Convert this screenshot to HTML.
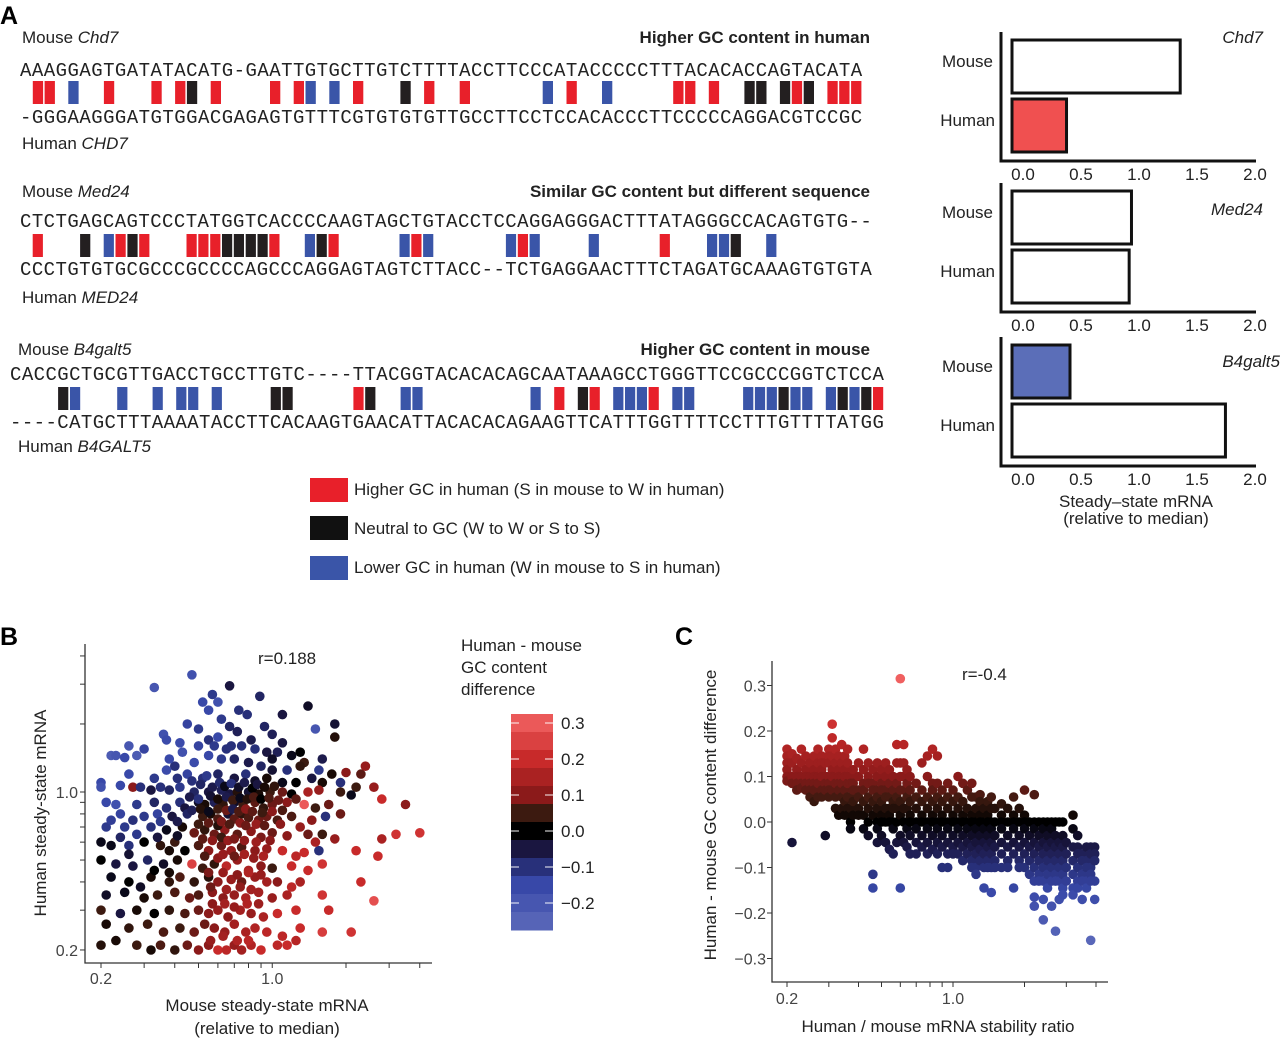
<!DOCTYPE html>
<html><head><meta charset="utf-8"><title>GC content and mRNA</title>
<style>
html,body{margin:0;padding:0;background:#fff;}
svg{display:block;font-family:"Liberation Sans",Arial,sans-serif;}
.seq{font-family:"Liberation Mono","DejaVu Sans Mono",monospace;font-size:19px;fill:#222;}
.lbl{font-size:17px;fill:#222;}
.tick{font-size:16px;fill:#444;}
</style></head>
<body>
<svg id="fig" width="1280" height="1039" viewBox="0 0 1280 1039">
<text x="0" y="24" font-size="25" font-weight="bold">A</text>
<text x="0" y="645" font-size="25" font-weight="bold">B</text>
<text x="675" y="645" font-size="25" font-weight="bold">C</text>

<text class="lbl" x="22" y="43">Mouse <tspan font-style="italic">Chd7</tspan></text>
<text class="lbl" x="870" y="43" text-anchor="end" font-weight="bold">Higher GC content in human</text>
<text class="lbl" x="22" y="149">Human <tspan font-style="italic">CHD7</tspan></text>
<text class="lbl" x="22" y="197">Mouse <tspan font-style="italic">Med24</tspan></text>
<text class="lbl" x="870" y="197" text-anchor="end" font-weight="bold">Similar GC content but different sequence</text>
<text class="lbl" x="22" y="303">Human <tspan font-style="italic">MED24</tspan></text>
<text class="lbl" x="18" y="355">Mouse <tspan font-style="italic">B4galt5</tspan></text>
<text class="lbl" x="870" y="355" text-anchor="end" font-weight="bold">Higher GC content in mouse</text>
<text class="lbl" x="18" y="452">Human <tspan font-style="italic">B4GALT5</tspan></text>
<g id="seqs"></g>

<rect x="310" y="478" width="38" height="24" fill="#e8202a"/>
<text class="lbl" x="354" y="495">Higher GC in human (S in mouse to W in human)</text>
<rect x="310" y="516" width="38" height="24" fill="#111"/>
<text class="lbl" x="354" y="534">Neutral to GC (W to W or S to S)</text>
<rect x="310" y="556" width="38" height="24" fill="#3a55a8"/>
<text class="lbl" x="354" y="573">Lower GC in human (W in mouse to S in human)</text>

<g id="bars"></g>
<text class="lbl" x="1136" y="507" text-anchor="middle">Steady–state mRNA</text>
<text class="lbl" x="1136" y="524" text-anchor="middle">(relative to median)</text>

<g id="plotB"></g>
<text class="lbl" x="258" y="664">r=0.188</text>
<text class="lbl" x="0" y="0" transform="translate(46,813) rotate(-90)" text-anchor="middle">Human steady-state mRNA</text>
<text class="lbl" x="267" y="1011" text-anchor="middle">Mouse steady-state mRNA</text>
<text class="lbl" x="267" y="1034" text-anchor="middle">(relative to median)</text>
<text class="lbl" x="461" y="651">Human - mouse</text>
<text class="lbl" x="461" y="673">GC content</text>
<text class="lbl" x="461" y="695">difference</text>
<g id="cbar"></g>

<g id="plotC"></g>
<text class="lbl" x="962" y="680">r=-0.4</text>
<text class="lbl" x="0" y="0" transform="translate(716,815) rotate(-90)" text-anchor="middle">Human - mouse GC content difference</text>
<text class="lbl" x="938" y="1032" text-anchor="middle">Human / mouse mRNA stability ratio</text>
</svg>
<script>
const NS="http://www.w3.org/2000/svg";
function mk(tag,attrs,parent){const e=document.createElementNS(NS,tag);for(const k in attrs)e.setAttribute(k,attrs[k]);parent.appendChild(e);return e;}

/* ---------- sequences ---------- */
const seqTop=["AAAGGAGTGATATACATG-GAATTGTGCTTGTCTTTTACCTTCCCATACCCCCTTTACACACCAGTACATA","CTCTGAGCAGTCCCTATGGTCACCCCAAGTAGCTGTACCTCCAGGAGGGACTTTATAGGGCCACAGTGTG--","CACCGCTGCGTTGACCTGCCTTGTC----TTACGGTACACACAGCAATAAAGCCTGGGTTCCGCCCGGTCTCCA"];
const seqBottom=["-GGGAAGGGATGTGGACGAGAGTGTTTCGTGTGTGTTGCCTTCCTCCACACCCTTCCCCCAGGACGTCCGC","CCCTGTGTGCGCCCGCCCCAGCCCAGGAGTAGTCTTACC--TCTGAGGAACTTTCTAGATGCAAAGTGTGTA","----CATGCTTTAAAATACCTTCACAAGTGAACATTACACACAGAAGTTCATTTGGTTTTCCTTTGTTTTATGG"];
const redIdx=[[1,2,7,11,13,16,21,23,28,34,37,46,55,56,58,65,68,69,70],[1,8,10,14,15,16,21,26,33,42,54],[29,46,49,54,73]];
const blueIdx=[[4,24,26,44,49],[7,24,32,34,41,43,48,58,59,63],[5,9,12,14,15,17,33,34,44,51,52,53,56,57,62,63,64,66,67,69,71]];
const blackIdx=[[14,32,61,62,64,66],[5,9,17,18,19,20,25,60],[4,22,23,30,48,65,70,72]];
const rowGeom=[{x:20,step:11.86,top:76,mark:81,bot:123},{x:20,step:11.83,top:227,mark:234,bot:275},{x:10,step:11.81,top:380,mark:387,bot:428}];
const seqG=document.getElementById('seqs');
rowGeom.forEach((g,r)=>{
  const t=mk('text',{class:'seq',x:g.x,y:g.top,textLength:(seqTop[r].length*g.step).toFixed(1),lengthAdjust:'spacing'},seqG);
  t.textContent=seqTop[r];
  
  
  const b=mk('text',{class:'seq',x:g.x,y:g.bot,textLength:(seqTop[r].length*g.step).toFixed(1),lengthAdjust:'spacing'},seqG);
  b.textContent=seqBottom[r];
  
  
  [[redIdx,'#e8202a','red'],[blueIdx,'#3a55a8','blue'],[blackIdx,'#231f20','black']].forEach(([arr,col,nm])=>{
    arr[r].forEach(i=>{
      const m=mk('rect',{x:(g.x+g.step*i+0.9).toFixed(1),y:g.mark,width:(g.step-1.6).toFixed(1),height:23,fill:col},seqG);
      
      
    });
  });
});

/* ---------- bar panels ---------- */
const genes=["Chd7","Med24","B4galt5"];
const mouseVals=[1.45,1.03,0.5];
const humanVals=[0.47,1.01,1.84];
const mouseFill=["#fff","#fff","#5b6eb8"];
const humanFill=["#f05050","#fff","#fff"];
const barTicks=[0,0.5,1.0,1.5,2.0];
const panelTop=[32,183,337];
const barsG=document.getElementById('bars');
const bx0=1012,bscale=116;
function bxs(v){return bx0+v*bscale;}
genes.forEach((gn,p)=>{
  const t=panelTop[p], bottom=t+129;
  const ax=mk('path',{d:`M1001,${t} V${bottom} H1256`,fill:'none',stroke:'#111','stroke-width':3},barsG);
  
  
  const mb=mk('rect',{x:bxs(0),y:t+8,width:bxs(mouseVals[p])-bxs(0),height:53,fill:mouseFill[p],stroke:'#111','stroke-width':3},barsG);
  
  
  const hb=mk('rect',{x:bxs(0),y:t+67,width:bxs(humanVals[p])-bxs(0),height:53,fill:humanFill[p],stroke:'#111','stroke-width':3},barsG);
  
  
  const l1=mk('text',{class:'lbl',x:993,y:t+35,'text-anchor':'end',fill:'#444'},barsG);l1.textContent='Mouse';
  
  
  const l2=mk('text',{class:'lbl',x:995,y:t+94,'text-anchor':'end',fill:'#444'},barsG);l2.textContent='Human';
  
  
  const gl=mk('text',{class:'lbl',x:p===2?1280:1263,y:p===0?43:(p===1?215:367),'text-anchor':'end','font-style':'italic',fill:'#333'},barsG);gl.textContent=gn;
  
  
  barTicks.forEach(v=>{
    const tl=mk('text',{class:'lbl',x:bxs(v)+11,y:bottom+19,'text-anchor':'middle',fill:'#222'},barsG);tl.textContent=v.toFixed(1);
    
    
  });
});

/* ---------- color scale ---------- */
const colorStops=[[-0.27,[92,106,186]],[-0.15,[56,72,168]],[-0.1,[40,48,122]],[-0.05,[26,22,64]],[0,[0,0,0]],[0.05,[60,26,16]],[0.1,[139,26,26]],[0.2,[200,42,42]],[0.32,[242,98,98]]];
function gcColor(v){
  if(v<=colorStops[0][0])return `rgb(${colorStops[0][1]})`;
  for(let i=1;i<colorStops.length;i++){
    if(v<=colorStops[i][0]){const [a,ca]=colorStops[i-1],[b,cb]=colorStops[i];const f=(v-a)/(b-a);
      return 'rgb('+ca.map((c,j)=>Math.round(c+(cb[j]-c)*f)).join(',')+')';}
  }
  return `rgb(${colorStops[colorStops.length-1][1]})`;
}

/* ---------- scatter B data ---------- */
const mouseMRNA=[0.47,0.33,0.67,0.57,0.89,0.52,0.6,1.4,1.1,0.79,0.62,0.45,1.5,1.8,0.67,0.5,0.72,1.0,1.8,0.36,0.37,0.42,0.55,0.26,0.3,0.28,0.22,0.23,0.25,0.58,0.65,0.75,0.85,0.95,1.05,1.2,1.35,1.3,0.55,0.62,0.7,0.8,0.48,0.4,0.9,1.0,1.15,1.55,1.75,2.0,2.3,0.26,0.33,0.45,0.52,0.6,0.7,0.78,0.85,0.95,1.1,1.25,1.45,1.6,1.9,2.6,2.2,
0.2,0.2,0.24,0.27,0.29,0.32,0.35,0.38,0.42,0.48,0.55,0.62,0.67,0.72,0.8,0.88,0.98,1.1,1.2,1.4,1.55,1.9,2.1,
0.21,0.23,0.28,0.33,0.37,0.42,0.44,0.5,0.53,0.58,0.63,0.7,0.76,0.85,0.92,1.0,1.15,1.35,1.5,1.7,2.8,3.5,
0.24,0.3,0.34,0.39,0.45,0.52,0.56,0.6,0.66,0.7,0.75,0.8,0.88,0.95,1.05,1.2,1.45,1.65,1.9,
0.21,0.25,0.28,0.32,0.37,0.43,0.48,0.53,0.58,0.64,0.72,0.82,0.9,1.0,1.15,1.4,1.6,3.2,4.0,2.8,
0.2,0.22,0.26,0.3,0.35,0.4,0.44,0.5,0.55,0.62,0.68,0.75,0.85,0.95,1.1,1.25,1.35,1.55,2.2,2.7,
0.2,0.23,0.27,0.31,0.36,0.41,0.47,0.52,0.58,0.65,0.72,0.8,0.9,1.0,1.2,1.6,
0.22,0.26,0.32,0.38,0.42,0.48,0.55,0.6,0.68,0.75,0.85,0.95,1.05,1.3,
0.21,0.25,0.3,0.34,0.4,0.46,0.5,0.57,0.63,0.7,0.78,0.88,1.0,1.15,1.6,2.6,
0.2,0.24,0.28,0.33,0.38,0.44,0.5,0.55,0.6,0.66,0.74,0.82,0.92,1.05,1.25,
0.21,0.26,0.31,0.36,0.42,0.48,0.53,0.58,0.64,0.7,0.78,0.85,0.95,1.1,1.6,2.1,
0.2,0.23,0.28,0.32,0.35,0.4,0.45,0.5,0.55,0.6,0.65,0.7,0.75,0.82,0.9,1.05,1.15,
0.47,0.51,0.54,0.57,0.61,0.64,0.68,0.73,0.77,0.83,0.87,0.93,1.02,
0.46,0.5,0.56,0.6,0.65,0.69,0.74,0.79,0.84,0.9,0.97,1.06,1.25,
0.47,0.51,0.55,0.6,0.65,0.69,0.73,0.78,0.83,0.91,1.0,1.1,
0.5,0.55,0.6,0.62,0.67,0.74,0.78,0.86,0.93,1.08,
0.52,0.57,0.62,0.66,0.7,0.77,0.86,0.98,
0.53,0.6,0.63,0.7,0.77,0.84,0.92,
0.55,0.63,0.72,0.8,0.9,
0.56,0.65,0.74,0.82,
0.57,0.64,0.7,0.79,0.88,
0.56,0.63,0.72,0.8,
0.22,0.27,0.35,0.41,0.24,0.34,0.41,0.38,0.26,0.33,0.38,0.29,
0.38,0.43,0.5,0.6,0.68,0.82,0.93,1.1,0.73,0.55,0.41,0.37,1.0,1.3,1.6,2.4,
1.3,1.5,1.8,1.2,1.4,2.3,1.7,1.3,1.25];
const humanMRNA=[3.3,2.9,2.95,2.7,2.65,2.5,2.5,2.4,2.2,2.2,2.1,2.0,1.9,2.0,1.95,1.9,1.85,1.8,1.75,1.8,1.7,1.65,1.7,1.6,1.55,1.45,1.45,1.45,1.42,1.6,1.55,1.6,1.55,1.5,1.5,1.45,1.35,1.5,1.45,1.4,1.4,1.35,1.35,1.3,1.3,1.25,1.25,1.25,1.2,1.22,1.2,1.2,1.15,1.2,1.15,1.2,1.15,1.2,1.12,1.15,1.1,1.1,1.15,1.1,1.1,1.05,1.05,
1.1,1.05,1.07,1.05,1.05,1.02,1.05,1.02,1.05,1.0,1.0,1.02,0.98,1.0,1.0,0.98,1.0,1.0,0.98,1.0,1.02,1.0,0.97,
0.9,0.88,0.88,0.9,0.85,0.9,0.85,0.9,0.88,0.9,0.88,0.9,0.88,0.9,0.85,0.88,0.9,0.88,0.85,0.88,0.93,0.88,
0.8,0.78,0.8,0.78,0.8,0.78,0.8,0.76,0.8,0.76,0.8,0.77,0.75,0.78,0.75,0.78,0.75,0.78,0.8,
0.7,0.7,0.65,0.7,0.68,0.7,0.66,0.68,0.65,0.68,0.65,0.67,0.63,0.66,0.64,0.65,0.65,0.65,0.66,0.62,
0.6,0.58,0.58,0.6,0.58,0.6,0.55,0.58,0.55,0.58,0.55,0.57,0.55,0.56,0.55,0.52,0.54,0.55,0.55,0.52,
0.5,0.48,0.47,0.5,0.48,0.5,0.48,0.46,0.48,0.47,0.5,0.45,0.47,0.46,0.47,0.48,
0.42,0.4,0.42,0.4,0.42,0.4,0.42,0.4,0.41,0.4,0.42,0.4,0.4,0.4,
0.35,0.36,0.34,0.35,0.36,0.34,0.35,0.36,0.34,0.35,0.34,0.36,0.34,0.35,0.35,0.33,
0.3,0.29,0.3,0.29,0.3,0.29,0.3,0.29,0.3,0.28,0.3,0.29,0.28,0.29,0.3,
0.26,0.25,0.26,0.24,0.25,0.24,0.26,0.25,0.24,0.26,0.24,0.25,0.24,0.23,0.24,0.24,
0.21,0.22,0.21,0.2,0.21,0.2,0.21,0.2,0.21,0.2,0.2,0.21,0.2,0.21,0.2,0.21,0.21,
1.12,1.08,1.18,1.05,1.1,1.06,1.09,1.05,1.1,1.04,1.08,1.05,1.06,
0.95,0.93,0.96,0.93,0.95,0.92,0.94,0.93,0.95,0.93,0.94,0.92,0.93,
0.83,0.84,0.82,0.84,0.83,0.84,0.82,0.84,0.82,0.81,0.82,0.83,
0.72,0.73,0.71,0.74,0.72,0.73,0.71,0.72,0.71,0.72,
0.62,0.61,0.63,0.61,0.62,0.61,0.6,0.61,
0.52,0.51,0.53,0.52,0.53,0.51,0.52,
0.44,0.44,0.43,0.44,0.43,
0.38,0.37,0.38,0.37,
0.32,0.32,0.31,0.32,0.32,
0.22,0.23,0.22,0.22,
0.75,0.75,0.74,0.74,0.63,0.63,0.64,0.55,0.53,0.45,0.44,0.38,
1.4,1.5,1.6,1.75,1.6,1.7,1.95,1.65,2.3,2.3,1.15,1.25,1.4,1.3,1.4,1.3,
0.7,0.6,0.62,0.38,0.45,0.4,0.3,0.25,0.22];
const gcDiffB=[-0.18,-0.2,-0.05,-0.12,-0.08,-0.15,-0.18,-0.03,-0.05,-0.1,-0.12,-0.14,-0.2,-0.04,-0.08,-0.12,-0.07,-0.07,0.03,-0.18,-0.16,-0.16,-0.1,-0.2,-0.14,-0.22,-0.22,-0.2,-0.15,-0.12,-0.1,-0.1,-0.1,-0.05,-0.07,-0.02,0.05,0.0,-0.15,-0.12,-0.08,-0.06,-0.16,-0.1,-0.08,-0.04,-0.1,-0.12,0.02,0.1,0.07,-0.15,-0.12,-0.14,-0.1,-0.08,-0.05,-0.1,-0.03,0.02,-0.02,0.0,-0.05,0.02,-0.1,0.12,0.05,
-0.15,-0.18,-0.15,0.1,-0.1,-0.05,-0.1,-0.08,-0.12,-0.08,-0.05,-0.07,-0.05,0.03,-0.04,0.02,0.05,0.08,0.0,0.15,0.12,0.05,-0.02,
-0.15,-0.18,-0.12,-0.08,-0.1,-0.1,-0.05,-0.03,0.02,-0.07,0.04,-0.03,0.05,0.07,0.04,0.08,0.1,0.3,0.05,0.08,0.2,0.1,
-0.14,-0.12,-0.14,-0.05,-0.08,0.05,0.02,0.06,-0.04,0.07,0.04,0.06,0.08,0.08,0.06,0.06,0.1,-0.1,0.08,
-0.12,-0.12,-0.12,-0.1,-0.02,0.02,0.08,0.04,0.08,0.1,0.07,0.1,0.09,0.08,0.1,0.08,0.05,0.22,0.22,0.15,
-0.02,-0.02,-0.1,0.0,0.04,0.05,0.0,0.06,0.1,0.08,0.12,0.06,0.1,0.12,0.2,0.18,0.2,-0.1,0.2,0.2,
0.0,-0.05,-0.05,-0.08,-0.03,0.02,0.25,0.05,0.04,0.18,0.12,0.15,0.1,0.05,0.2,0.22,
-0.02,0.0,0.02,0.04,0.06,0.04,0.03,0.1,0.12,0.08,0.12,0.14,0.1,0.15,
-0.03,-0.02,0.02,0.05,0.06,0.08,0.06,0.1,0.1,0.12,0.15,0.14,0.12,0.15,0.22,0.28,
0.05,-0.05,0.02,0.0,0.04,0.06,0.08,0.1,0.12,0.1,0.14,0.12,0.15,0.2,0.2,
0.02,0.04,0.05,0.06,0.05,0.08,0.08,0.1,0.12,0.14,0.15,0.16,0.18,0.18,0.24,0.22,
0.03,0.02,0.05,0.02,0.06,0.04,0.08,0.1,0.1,0.2,0.18,0.12,0.14,0.16,0.2,0.18,0.2,
-0.1,-0.08,-0.12,-0.06,-0.09,-0.02,-0.1,-0.03,-0.06,0.0,-0.05,0.02,0.04,
-0.06,-0.1,-0.04,0.02,-0.06,0.05,-0.02,0.03,0.06,0.0,0.06,0.08,0.07,
-0.07,0.03,-0.02,0.05,0.08,-0.06,0.06,0.1,0.07,0.05,0.1,0.06,
0.05,0.07,0.03,0.09,0.06,0.1,0.08,0.12,0.07,0.1,
0.07,0.1,0.05,0.12,0.09,0.11,0.13,0.1,
0.06,0.1,0.12,0.08,0.14,0.11,0.15,
0.09,0.12,0.1,0.16,0.12,
0.08,0.13,0.11,0.14,
0.1,0.14,0.12,0.16,0.13,
0.12,0.14,0.16,0.18,
-0.13,-0.1,-0.12,-0.06,-0.08,-0.05,-0.03,0.02,-0.04,0.0,0.02,-0.03,
-0.15,-0.18,-0.14,-0.15,-0.1,-0.06,-0.08,-0.05,-0.1,-0.15,-0.1,-0.16,-0.03,0.04,-0.06,0.12,
0.12,0.15,0.12,0.18,0.2,0.2,0.2,0.2,0.17];
const bXTicks=[0.2,0.3,0.4,0.5,0.6,0.7,0.8,0.9,1,2,3,4];
const bXLabels=[[0.2,"0.2"],[1,"1.0"]];
const bYTicks=[0.2,0.3,0.4,0.5,0.6,0.7,0.8,0.9,1,2,3,4];
const bYLabels=[[0.2,"0.2"],[1,"1.0"]];

function bX(v){return 101+(Math.log10(v)-Math.log10(0.2))*245;}
function bY(v){return 792-Math.log10(v)*226;}
const gB=document.getElementById('plotB');
const bAx=mk('path',{d:'M85,644 V963 H432',fill:'none',stroke:'#333','stroke-width':1.3},gB);


bXTicks.forEach(v=>{const t=mk('line',{x1:bX(v),x2:bX(v),y1:963,y2:968,stroke:'#333'},gB);
  
  });
bYTicks.forEach(v=>{const t=mk('line',{x1:80,x2:85,y1:bY(v),y2:bY(v),stroke:'#333'},gB);
  
  });
bXLabels.forEach(([v,s])=>{const t=mk('text',{class:'tick',x:bX(v),y:984,'text-anchor':'middle'},gB);t.textContent=s;
  
  });
bYLabels.forEach(([v,s])=>{const t=mk('text',{class:'tick',x:78,y:bY(v)+6,'text-anchor':'end'},gB);t.textContent=s;
  
  });
mouseMRNA.forEach((x,i)=>{
  const c=mk('circle',{cx:bX(x).toFixed(1),cy:bY(humanMRNA[i]).toFixed(1),r:4.8,fill:gcColor(gcDiffB[i])},gB);
  
  
});

/* ---------- colorbar ---------- */
const cbarLevels=[0.3,0.25,0.2,0.15,0.1,0.05,0,-0.05,-0.1,-0.15,-0.2,-0.25];
const cbarTicks=[0.3,0.2,0.1,0.0,-0.1,-0.2];
const cb=document.getElementById('cbar');
function cbY(v){return 831-v*360;}
cbarLevels.forEach(v=>{
  const r=mk('rect',{x:511,y:cbY(v+0.025).toFixed(1),width:42,height:18.5,fill:gcColor(v)},cb);
  
  
});
cbarTicks.forEach(v=>{
  const a=mk('line',{x1:511,x2:519,y1:cbY(v),y2:cbY(v),stroke:'#fff','stroke-width':1.2,opacity:0.8},cb);
  
  
  const b=mk('line',{x1:545,x2:553,y1:cbY(v),y2:cbY(v),stroke:'#fff','stroke-width':1.2,opacity:0.8},cb);
  
  
  const t=mk('text',{class:'lbl',x:561,y:cbY(v)+6},cb);t.textContent=(v<0?'\u2212'+Math.abs(v).toFixed(1):v.toFixed(1));
  
  
});

/* ---------- scatter C data ---------- */
const stabilityRatio=[0.2,0.2,0.2,0.2,0.2,0.2, 0.21,0.21,0.21,0.21,0.21, 0.22,0.22,0.22,0.22,0.22, 0.23,0.23,0.23,0.23,0.23, 0.24,0.24,0.24,0.24,0.24, 0.25,0.25,0.25,0.25,0.25, 0.26,0.26,0.26,0.26,0.26,0.26, 0.27,0.27,0.27,0.27,0.27, 0.28,0.28,0.28,0.28,0.28,0.28, 0.29,0.29,0.29,0.29,0.29, 0.3,0.3,0.3,0.3,0.3,0.3,0.3, 0.31,0.31,0.31,0.31,0.31,0.31, 0.32,0.32,0.32,0.32,0.32,0.32, 0.33,0.33,0.33,0.33,0.33,0.33, 0.34,0.34,0.34,0.34,0.34,0.34, 0.35,0.35,0.35,0.35,0.35,0.35, 0.36,0.36,0.36,0.36,0.36,0.36,0.36, 0.37,0.37,0.37,0.37,0.37,0.37, 0.38,0.38,0.38,0.38,0.38, 0.4,0.4,0.4,0.4,0.4,0.4, 0.42,0.42,0.42,0.42,0.42,0.42,0.42, 0.44,0.44,0.44,0.44,0.44,0.44,0.44, 0.46,0.46,0.46,0.46,0.46,0.46,0.46, 0.48,0.48,0.48,0.48,0.48,0.48,0.48,0.48, 0.5,0.5,0.5,0.5,0.5,0.5,0.5, 0.52,0.52,0.52,0.52,0.52,0.52,0.52, 0.54,0.54,0.54,0.54,0.54,0.54,0.54, 0.56,0.56,0.56,0.56,0.56,0.56,0.56, 0.58,0.58,0.58,0.58,0.58,0.58,0.58, 0.6,0.6,0.6,0.6,0.6,0.6,0.6,0.6, 0.62,0.62,0.62,0.62,0.62,0.62,0.62, 0.64,0.64,0.64,0.64,0.64,0.64,0.64, 0.66,0.66,0.66,0.66,0.66,0.66,0.66, 0.7,0.7,0.7,0.7,0.7,0.7,0.7, 0.74,0.74,0.74,0.74,0.74,0.74,0.74, 0.78,0.78,0.78,0.78,0.78,0.78,0.78,0.78, 0.82,0.82,0.82,0.82,0.82,0.82,0.82,0.82, 0.86,0.86,0.86,0.86,0.86,0.86,0.86,0.86, 0.9,0.9,0.9,0.9,0.9,0.9,0.9, 0.95,0.95,0.95,0.95,0.95,0.95,0.95,0.95, 1.0,1.0,1.0,1.0,1.0,1.0,1.0, 1.05,1.05,1.05,1.05,1.05,1.05,1.05, 1.1,1.1,1.1,1.1,1.1,1.1,1.1, 1.15,1.15,1.15,1.15,1.15,1.15, 1.2,1.2,1.2,1.2,1.2,1.2,1.2,1.2, 1.25,1.25,1.25,1.25,1.25,1.25,1.25,1.25, 1.3,1.3,1.3,1.3,1.3,1.3,1.3, 1.35,1.35,1.35,1.35,1.35,1.35,1.35, 1.4,1.4,1.4,1.4,1.4,1.4,1.4, 1.45,1.45,1.45,1.45,1.45,1.45,1.45,1.45, 1.5,1.5,1.5,1.5,1.5,1.5, 1.6,1.6,1.6,1.6,1.6,1.6,1.6, 1.7,1.7,1.7,1.7,1.7,1.7, 1.8,1.8,1.8,1.8,1.8,1.8,1.8, 1.9,1.9,1.9,1.9,1.9,1.9, 2.0,2.0,2.0,2.0,2.0,2.0,2.0, 2.1,2.1,2.1,2.1,2.1, 2.2,2.2,2.2,2.2,2.2,2.2,2.2,2.2,2.2, 2.3,2.3,2.3,2.3,2.3,2.3, 2.4,2.4,2.4,2.4,2.4,2.4,2.4,2.4, 2.5,2.5,2.5,2.5,2.5,2.5, 2.6,2.6,2.6,2.6,2.6,2.6,2.6, 2.7,2.7,2.7,2.7,2.7,2.7,2.7, 2.8,2.8,2.8,2.8,2.8,2.8, 2.9,2.9,2.9,2.9,2.9,2.9,2.9, 3.0,3.0,3.0,3.0, 3.2,3.2,3.2,3.2,3.2,3.2,3.2, 3.35,3.35,3.35,3.35,3.35,3.35, 3.5,3.5,3.5,3.5,3.5, 3.65,3.65,3.65,3.65,3.65, 3.8,3.8,3.8,3.8,3.8,3.8, 3.95,3.95,3.95,3.95,3.95];
const gcDiffC=[0.16,0.145,0.13,0.115,0.1,0.09, 0.15,0.13,0.1,0.085,-0.045, 0.14,0.115,0.1,0.085,0.07, 0.16,0.13,0.1,0.085,0.075, 0.145,0.115,0.1,0.085,0.07, 0.13,0.1,0.085,0.07,0.055, 0.145,0.115,0.1,0.085,0.07,0.045, 0.16,0.13,0.1,0.085,0.055, 0.145,0.13,0.115,0.1,0.07,0.055, 0.13,0.1,0.085,0.07,-0.03, 0.16,0.145,0.13,0.1,0.085,0.07,0.055, 0.215,0.185,0.145,0.115,0.1,0.07, 0.16,0.13,0.1,0.085,0.055,0.03, 0.145,0.115,0.1,0.085,0.07,0.015, 0.17,0.13,0.1,0.085,0.055,0.03, 0.145,0.115,0.1,0.07,0.045,0.015, 0.16,0.13,0.1,0.085,0.055,0.03,0.015, 0.1,0.085,0.055,0.03,0.0,-0.015, 0.115,0.085,0.07,0.045,0.015, 0.13,0.1,0.07,0.055,0.03,0.015, 0.16,0.115,0.085,0.07,0.045,0.015,-0.015, 0.13,0.1,0.085,0.055,0.03,0.0,-0.03, 0.115,0.085,0.07,0.045,0.015,-0.115,-0.145, 0.13,0.1,0.07,0.055,0.03,0.0,-0.015,-0.045, 0.115,0.085,0.07,0.045,0.015,0.0,-0.03, 0.13,0.1,0.07,0.055,0.03,0.0,-0.045, 0.115,0.085,0.055,0.03,0.015,0.0,-0.06, 0.1,0.07,0.045,0.03,0.0,-0.015,-0.07, 0.17,0.13,0.085,0.055,0.03,0.0,-0.045, 0.315,0.13,0.1,0.07,0.045,0.015,-0.03,-0.145, 0.17,0.13,0.1,0.07,0.03,0.0,-0.045, 0.115,0.085,0.055,0.03,0.0,-0.015,-0.055, 0.1,0.07,0.045,0.015,0.0,-0.03,-0.07, 0.085,0.055,0.03,0.0,-0.015,-0.045,-0.07, 0.13,0.07,0.045,0.015,0.0,-0.03,-0.055, 0.145,0.1,0.055,0.03,0.0,-0.015,-0.045,-0.07, 0.16,0.085,0.07,0.045,0.015,0.0,-0.03,-0.06, 0.145,0.085,0.055,0.03,0.0,-0.015,-0.045,-0.07, 0.07,0.045,0.015,0.0,-0.03,-0.055,-0.1, 0.085,0.055,0.03,0.0,-0.015,-0.045,-0.07,-0.1, 0.07,0.045,0.015,0.0,-0.03,-0.055,-0.07, 0.1,0.055,0.03,0.0,-0.015,-0.045,-0.07, 0.085,0.045,0.015,0.0,-0.03,-0.055,-0.085, 0.07,0.03,0.0,-0.015,-0.045,-0.07, 0.085,0.055,0.015,0.0,-0.03,-0.055,-0.085,-0.1, 0.055,0.03,0.0,-0.015,-0.045,-0.07,-0.1,-0.115, 0.06,0.045,0.015,0.0,-0.03,-0.06,-0.085, 0.03,0.0,-0.015,-0.045,-0.07,-0.1,-0.145, 0.045,0.015,0.0,-0.03,-0.055,-0.085,-0.1, 0.055,0.03,0.0,-0.015,-0.045,-0.07,-0.1,-0.155, 0.03,0.0,-0.03,-0.055,-0.085,-0.1, 0.04,0.015,0.0,-0.015,-0.045,-0.07,-0.1, 0.03,0.0,-0.03,-0.055,-0.085,-0.1, 0.055,0.015,0.0,-0.015,-0.045,-0.07,-0.145, 0.03,0.0,-0.03,-0.055,-0.085,-0.1, 0.07,0.015,0.0,-0.015,-0.045,-0.07,-0.1, 0.0,-0.03,-0.055,-0.085,-0.115, 0.06,0.0,-0.015,-0.045,-0.07,-0.1,-0.13,-0.165,-0.185, 0.0,-0.03,-0.055,-0.085,-0.115,-0.13, 0.0,-0.015,-0.045,-0.07,-0.1,-0.13,-0.17,-0.215, 0.0,-0.03,-0.055,-0.085,-0.115,-0.145, 0.0,-0.015,-0.045,-0.07,-0.1,-0.13,-0.185, 0.0,-0.03,-0.055,-0.085,-0.115,-0.13,-0.24, 0.0,-0.045,-0.07,-0.1,-0.13,-0.17, 0.0,-0.03,-0.055,-0.085,-0.115,-0.145,-0.16, -0.045,-0.07,-0.1,-0.13, 0.015,-0.015,-0.055,-0.085,-0.115,-0.145,-0.16, -0.03,-0.055,-0.07,-0.1,-0.13,-0.145, -0.07,-0.085,-0.115,-0.13,-0.17, -0.055,-0.085,-0.1,-0.13,-0.145, -0.055,-0.07,-0.1,-0.115,-0.13,-0.26, -0.055,-0.07,-0.085,-0.13,-0.17];
const cXTicks=[0.2,0.3,0.4,0.5,0.6,0.7,0.8,0.9,1,2,3,4];
const cXLabels=[[0.2,"0.2"],[1,"1.0"]];
const cYTicks=[0.3,0.2,0.1,0,-0.1,-0.2,-0.3];
const cYLabels=["0.3","0.2","0.1","0.0","\u22120.1","\u22120.2","\u22120.3"];

function cX(v){return 787+(Math.log10(v)-Math.log10(0.2))*237.5;}
function cY(v){return 822-v*455;}
const gC=document.getElementById('plotC');
const cAx=mk('path',{d:'M772,661 V982 H1108',fill:'none',stroke:'#333','stroke-width':1.3},gC);


cXTicks.forEach(v=>{const t=mk('line',{x1:cX(v),x2:cX(v),y1:982,y2:987,stroke:'#333'},gC);
  
  });
cXLabels.forEach(([v,s])=>{const t=mk('text',{class:'tick',x:cX(v),y:1004,'text-anchor':'middle'},gC);t.textContent=s;
  
  });
cYTicks.forEach((v,i)=>{const t=mk('line',{x1:767,x2:772,y1:cY(v),y2:cY(v),stroke:'#333'},gC);
  
  
  const l=mk('text',{class:'tick',x:766,y:cY(v)+6,'text-anchor':'end'},gC);l.textContent=cYLabels[i];
  
  });
stabilityRatio.forEach((x,i)=>{
  const c=mk('circle',{cx:cX(x).toFixed(1),cy:cY(gcDiffC[i]).toFixed(1),r:4.8,fill:gcColor(gcDiffC[i])},gC);
  
  
});
</script>
</body></html>
